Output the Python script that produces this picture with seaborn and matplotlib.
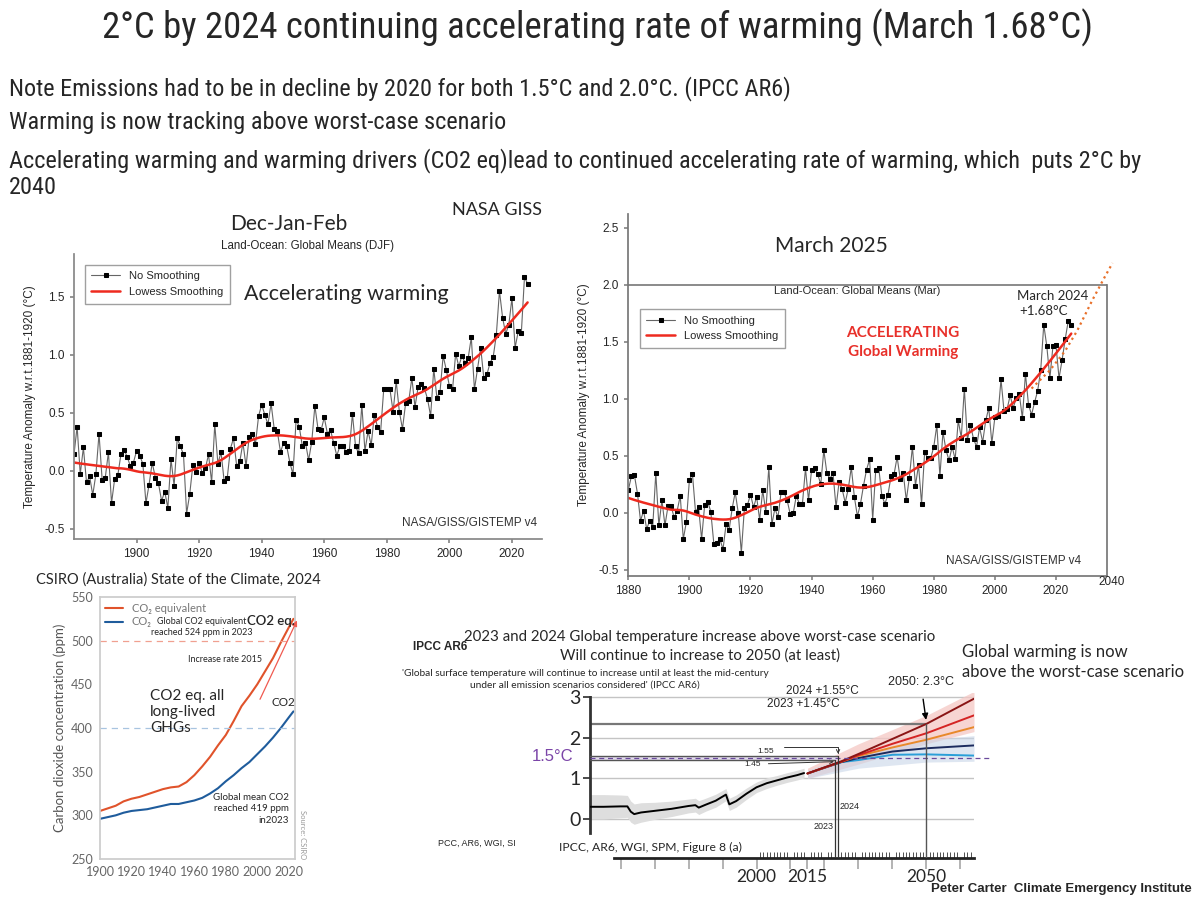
import numpy as np
import matplotlib
matplotlib.use('Agg')
import matplotlib.pyplot as plt
import seaborn as sns
from matplotlib import font_manager

# ---------------- values ----------------
giss_years = list(range(1880, 2026))

# NASA GISTEMP v4, Dec-Jan-Feb anomaly (deg C, w.r.t. 1881-1920)
djf_anom = [0.14, 0.38, -0.03, 0.20, -0.10, -0.05, -0.21, -0.03, 0.32, -0.08,
            -0.06, 0.16, -0.28, -0.07, -0.04, 0.14, 0.18, 0.12, 0.04, 0.07,
            0.17, 0.13, 0.06, -0.28, -0.12, 0.07, -0.06, -0.11, -0.26, -0.18,
            -0.32, 0.10, -0.13, 0.28, 0.21, 0.14, -0.37, -0.20, 0.05, -0.01,
            0.07, -0.02, 0.02, 0.14, -0.10, 0.40, 0.06, 0.16, -0.09, -0.06,
            0.19, 0.28, 0.04, 0.08, 0.24, 0.04, 0.29, 0.32, 0.23, 0.47,
            0.57, 0.48, 0.40, 0.58, 0.36, 0.34, 0.16, 0.24, 0.21, 0.07,
            -0.03, 0.44, 0.38, 0.21, 0.24, 0.09, 0.25, 0.56, 0.36, 0.35,
            0.46, 0.32, 0.35, 0.24, 0.13, 0.21, 0.21, 0.16, 0.17, 0.49,
            0.21, 0.15, 0.57, 0.17, 0.34, 0.22, 0.48, 0.38, 0.33, 0.70,
            0.70, 0.70, 0.51, 0.77, 0.51, 0.36, 0.58, 0.60, 0.80, 0.55,
            0.72, 0.75, 0.71, 0.62, 0.47, 0.88, 0.63, 0.68, 0.99, 0.87,
            0.73, 0.70, 1.01, 0.90, 0.99, 0.93, 0.97, 1.15, 0.70, 0.88,
            1.06, 0.80, 0.83, 0.93, 0.98, 1.17, 1.55, 1.32, 1.18, 1.26,
            1.49, 1.06, 1.20, 1.19, 1.67, 1.61]

# March anomaly
mar_anom = [0.20, 0.32, 0.33, 0.17, -0.07, 0.02, -0.14, -0.07, -0.12, 0.35,
            -0.11, 0.11, -0.11, 0.06, 0.06, -0.04, 0.02, 0.15, -0.23, -0.08,
            0.29, 0.34, 0.01, 0.05, -0.23, 0.07, 0.10, 0.01, -0.27, -0.26,
            -0.23, -0.32, -0.10, -0.15, 0.04, 0.18, 0.00, -0.35, 0.04, 0.07,
            0.16, 0.05, 0.14, -0.06, 0.20, 0.01, 0.40, -0.10, 0.04, -0.04,
            0.18, 0.18, 0.11, -0.01, 0.00, 0.15, 0.08, 0.08, 0.39, 0.11,
            0.38, 0.39, 0.34, 0.25, 0.55, 0.35, 0.30, 0.35, 0.05, 0.27,
            0.21, 0.09, 0.21, 0.40, 0.14, -0.03, 0.08, 0.24, 0.38, 0.47,
            -0.06, 0.38, 0.39, 0.15, 0.08, 0.16, 0.32, 0.34, 0.49, 0.30,
            0.35, 0.11, 0.31, 0.58, 0.24, 0.42, 0.08, 0.53, 0.48, 0.48,
            0.58, 0.77, 0.32, 0.71, 0.55, 0.46, 0.58, 0.47, 0.81, 0.66,
            1.09, 0.64, 0.77, 0.65, 0.58, 0.75, 0.62, 0.81, 0.92, 0.61,
            0.84, 0.85, 1.17, 0.89, 0.91, 1.03, 0.92, 1.01, 1.04, 0.83,
            1.22, 0.95, 0.86, 0.97, 1.07, 1.25, 1.65, 1.46, 1.18, 1.46,
            1.47, 1.18, 1.34, 1.52, 1.68, 1.65]

# hand drawn dotted projection to 2 deg C
proj_years = [2012, 2018, 2023, 2027, 2032, 2036, 2038.5]
proj_vals = [1.09, 1.25, 1.42, 1.60, 1.87, 2.07, 2.19]

# CSIRO State of the Climate 2024
csiro_years = [1900, 1905, 1910, 1915, 1920, 1925, 1930, 1935, 1940, 1945, 1950, 1955, 1960,
               1965, 1970, 1975, 1980, 1985, 1990, 1995, 2000, 2005, 2010, 2015, 2020, 2023]
co2eq_ppm = [305, 308, 311, 316, 319, 321, 324, 327, 330, 332, 333, 338, 346,
             356, 367, 380, 392, 408, 425, 437, 450, 465, 480, 498, 515, 525]
co2_ppm = [296, 298, 300, 303, 305, 306, 307, 309, 311, 313, 313, 315, 317,
           320, 325, 331, 339, 346, 354, 361, 370, 379, 389, 400, 412, 419]
rate_arrow_years = [2001, 2026]
rate_arrow_ppm = [430, 526]

# IPCC AR6 WGI SPM fig 8(a)
hist_years = [1950, 1955, 1960, 1962, 1963, 1964, 1966, 1970, 1975, 1980, 1982, 1983,
              1985, 1988, 1991, 1992, 1994, 1997, 2000, 2003, 2006, 2009, 2012, 2014]
hist_temp = [0.30, 0.30, 0.31, 0.31, 0.18, 0.12, 0.16, 0.20, 0.25, 0.32, 0.34, 0.28,
             0.35, 0.45, 0.60, 0.36, 0.44, 0.62, 0.78, 0.88, 0.95, 1.02, 1.08, 1.13]
hist_spread = [0.30, 0.30, 0.28, 0.27, 0.26, 0.25, 0.24, 0.21, 0.19, 0.17, 0.17, 0.17,
               0.16, 0.16, 0.15, 0.15, 0.15, 0.14, 0.13, 0.13, 0.12, 0.12, 0.12, 0.12]

ssp_years = [2015, 2025, 2030, 2040, 2050, 2064]
ssp_names = ['SSP1-1.9', 'SSP1-2.6', 'SSP2-4.5', 'SSP3-7.0', 'SSP5-8.5']
ssp_vals = {
    'SSP1-1.9': [1.12, 1.40, 1.45, 1.58, 1.59, 1.56],
    'SSP1-2.6': [1.12, 1.40, 1.50, 1.66, 1.74, 1.81],
    'SSP2-4.5': [1.12, 1.41, 1.55, 1.76, 1.95, 2.26],
    'SSP3-7.0': [1.12, 1.41, 1.57, 1.85, 2.11, 2.55],
    'SSP5-8.5': [1.12, 1.42, 1.60, 1.97, 2.34, 2.96],
}
ssp_colors = ['#2a9fd8', '#1c2b5e', '#e8892b', '#d42424', '#8a1515']
band_years = [2015, 2030, 2050, 2064]
red_band_lo = [1.00, 1.35, 1.85, 2.15]
red_band_hi = [1.25, 1.85, 2.55, 3.14]
blue_band_lo = [1.00, 1.25, 1.40, 1.42]
blue_band_hi = [1.20, 1.62, 1.95, 2.05]


def lowess(x, y, frac=0.2):
    # plain tricube local-linear smoother
    x = np.asarray(x, float)
    y = np.asarray(y, float)
    n = len(x)
    k = int(np.ceil(frac * n))
    out = np.empty(n)
    for i in range(n):
        d = np.abs(x - x[i])
        h = np.sort(d)[k]
        w = np.clip(1 - (d / h) ** 3, 0, None) ** 3
        A = np.vstack([np.ones(n), x - x[i]]).T
        sw = np.sqrt(w)
        beta = np.linalg.lstsq(A * sw[:, None], y * sw, rcond=None)[0]
        out[i] = beta[0]
    return out


sns.set_theme(style='white')
names = {f.name for f in font_manager.fontManager.ttflist}


def pick(*cands):
    for c in cands:
        if c in names:
            return c
    return 'DejaVu Sans'


NARROW = pick('Liberation Sans Narrow', 'Roboto Condensed', 'Lato')
SLIDE = pick('Lato', 'Open Sans')
CHART = pick('Liberation Sans', 'Arial')
plt.rcParams['font.family'] = [CHART, 'DejaVu Sans']

W, H = 1200, 900


def box(l, t, r, b):
    return [l / W, 1 - b / H, (r - l) / W, (b - t) / H]


def ftext(x, y, s, **kw):
    kw.setdefault('family', [SLIDE, 'DejaVu Sans'])
    fig.text(x / W, 1 - y / H, s, **kw)


fig = plt.figure(figsize=(12, 9), dpi=100)

# ---------------- slide text ----------------
nk = dict(family=[NARROW, 'DejaVu Sans'])
ftext(598, 28, '2°C by 2024 continuing accelerating rate of warming (March 1.68°C)',
      ha='center', va='center', fontsize=26.5, **nk)
ftext(9, 89, 'Note Emissions had to be in decline by 2020 for both 1.5°C and 2.0°C. (IPCC AR6)',
      va='center', fontsize=17.5, **nk)
ftext(9, 122, 'Warming is now tracking above worst-case scenario', va='center', fontsize=17.5, **nk)
ftext(9, 161, 'Accelerating warming and warming drivers (CO2 eq)lead to continued accelerating rate of warming, which  puts 2°C by',
      va='center', fontsize=17.5, **nk)
ftext(9, 187, '2040', va='center', fontsize=17.5, **nk)

# ---------------- DJF panel ----------------
ax1 = fig.add_axes(box(74, 254, 542, 539))
sns.lineplot(x=giss_years, y=djf_anom, ax=ax1, color='#666666', lw=0.8, marker='s',
             markersize=3.5, markerfacecolor='black', markeredgecolor='black',
             label='No Smoothing')
sns.lineplot(x=giss_years, y=lowess(giss_years, djf_anom), ax=ax1, color='#ee2a1f',
             lw=1.8, label='Lowess Smoothing')
ax1.set_xlim(1880, 2029.6)
ax1.set_ylim(-0.589, 1.868)
ax1.set_xticks(range(1900, 2021, 20))
ax1.set_yticks([-0.5, 0.0, 0.5, 1.0, 1.5])
ax1.set_yticklabels(['-0.5', '0.0', '0.5', '1.0', '1.5'])
ax1.set_ylabel('Temperature Anomaly w.r.t.1881-1920 (°C)', fontsize=8.5, labelpad=6)
for s in ['top', 'right']:
    ax1.spines[s].set_visible(False)
for s in ['left', 'bottom']:
    ax1.spines[s].set_color('#888888')
ax1.tick_params(labelsize=8.5, length=3, direction='out', color='#888888', left=True, bottom=True)
ax1.legend(loc='upper left', bbox_to_anchor=(0.011, 0.982), fontsize=8, frameon=True,
           fancybox=False, edgecolor='#888888', handlelength=2.6, borderpad=0.6)
ax1.text((346.6 - 74) / 468, (539 - 294) / 285, 'Accelerating warming', transform=ax1.transAxes,
         ha='center', va='center', fontsize=15.5, family=[SLIDE, 'DejaVu Sans'])
ax1.text(0.99, 0.057, 'NASA/GISS/GISTEMP v4', transform=ax1.transAxes, ha='right',
         va='center', fontsize=8.5, color='#333333')
ftext(289, 224, 'Dec-Jan-Feb', ha='center', va='center', fontsize=15)
ftext(497, 210, 'NASA GISS', ha='center', va='center', fontsize=13)
ftext(307.5, 246, 'Land-Ocean: Global Means (DJF)', ha='center', va='center', fontsize=8.3,
      family=[CHART, 'DejaVu Sans'])

# ---------------- March panel ----------------
ax2 = fig.add_axes(box(628, 214, 1107, 576))
sns.lineplot(x=giss_years, y=mar_anom, ax=ax2, color='#666666', lw=0.8, marker='s',
             markersize=3.5, markerfacecolor='black', markeredgecolor='black',
             label='No Smoothing')
sns.lineplot(x=giss_years, y=lowess(giss_years, mar_anom), ax=ax2, color='#ee2a1f',
             lw=1.8, label='Lowess Smoothing')
sns.lineplot(x=proj_years, y=proj_vals, ax=ax2, color='#e8702a', lw=1.6,
             linestyle=(0, (1, 1.6)))
ax2.lines[-1].set_clip_on(False)
ax2.set_xlim(1879.9, 2036.7)
ax2.set_ylim(-0.553, 2.62)
ax2.set_xticks(range(1880, 2021, 20))
ax2.set_yticks([-0.5, 0.0, 0.5, 1.0, 1.5, 2.0, 2.5])
ax2.set_yticklabels(['-0.5', '0.0', '0.5', '1.0', '1.5', '2.0', '2.5'])
ax2.set_ylabel('Temperature Anomaly w.r.t.1881-1920 (°C)', fontsize=8.5, labelpad=6)
ax2.spines['top'].set_visible(False)
for s in ['left', 'bottom', 'right']:
    ax2.spines[s].set_color('#777777')
ax2.spines['right'].set_bounds(-0.553, 2.0)
ax2.axhline(2.0, color='#777777', lw=1.2)
ax2.tick_params(labelsize=8.5, length=3, direction='out', color='#888888', left=True, bottom=True)
ax2.legend(loc='upper left', bbox_to_anchor=(0.0125, 0.753), fontsize=8, frameon=True,
           fancybox=False, edgecolor='#888888', handlelength=2.6, borderpad=0.6)
ax2.text((1081 - 628) / 479, (576 - 561) / 362, 'NASA/GISS/GISTEMP v4', transform=ax2.transAxes,
         ha='right', va='center', fontsize=8.5, color='#333333')
ftext(1112, 582, '2040', ha='center', va='center', fontsize=8.5, family=[CHART, 'DejaVu Sans'])
ftext(831, 246, 'March 2025', ha='center', va='center', fontsize=15)
ftext(857, 291, 'Land-Ocean: Global Means (Mar)', ha='center', va='center', fontsize=8,
      family=[CHART, 'DejaVu Sans'])
ftext(903, 333, 'ACCELERATING', ha='center', va='center', fontsize=11, color='#e8302a',
      weight='bold')
ftext(903, 352, 'Global Warming', ha='center', va='center', fontsize=11, color='#e8302a',
      weight='bold')
ftext(1053, 296, 'March 2024', ha='center', va='center', fontsize=9.5)
ftext(1044, 311, '+1.68°C', ha='center', va='center', fontsize=9.5)

# ---------------- CSIRO panel ----------------
ax3 = fig.add_axes(box(100, 597, 295, 859))
sns.lineplot(x=csiro_years, y=co2eq_ppm, ax=ax3, color='#e0532b', lw=1.5, label='CO₂ equivalent')
sns.lineplot(x=csiro_years, y=co2_ppm, ax=ax3, color='#1f5c9c', lw=1.5, label='CO₂')
ax3.axhline(500, color='#f0a090', lw=0.9, ls=(0, (5, 4)))
ax3.axhline(400, color='#a8c4e0', lw=0.9, ls=(0, (5, 4)))
ax3.annotate('', xy=(rate_arrow_years[1], rate_arrow_ppm[1]),
             xytext=(rate_arrow_years[0], rate_arrow_ppm[0]),
             arrowprops=dict(arrowstyle='-|>', color='#f05a50', lw=0.9, mutation_scale=8),
             annotation_clip=False)
ax3.set_xlim(1900, 2024)
ax3.set_ylim(250, 550)
ax3.set_xticks(range(1900, 2021, 20))
ax3.set_yticks(range(250, 551, 50))
ax3.set_ylabel('Carbon dioxide concentration (ppm)', fontsize=9.5, color='#555555',
               family=[SLIDE, 'DejaVu Sans'])
for s in ax3.spines.values():
    s.set_color('#cccccc')
ax3.tick_params(axis='x', labelsize=9, colors='#666666', length=0, pad=5)
ax3.tick_params(axis='y', labelsize=9, colors='#666666', length=0, pad=5)
for lab in ax3.get_xticklabels() + ax3.get_yticklabels():
    lab.set_family([SLIDE, 'DejaVu Sans'])
ax3.legend(loc='upper left', bbox_to_anchor=(-0.02, 1.01), frameon=False,
           labelcolor='#777777', handlelength=1.6, borderpad=0.3, labelspacing=0.2,
           prop={'family': [SLIDE, 'DejaVu Sans'], 'size': 8})
sk = dict(family=[SLIDE, 'DejaVu Sans'])
ax3.text(1964.5, 515.6, 'Global CO2 equivalent\nreached 524 ppm in 2023', ha='center',
         va='center', fontsize=6.5, linespacing=1.3, **sk)
ax3.text(2009, 523, 'CO2 eq.', ha='center', va='center', fontsize=9.5, weight='semibold', **sk)
ax3.text(1979.4, 478, 'Increase rate 2015', ha='center', va='center', fontsize=6.5, **sk)
ax3.text(1931.8, 445, 'CO2 eq. all\nlong-lived\nGHGs', ha='left', va='top', fontsize=11,
         linespacing=1.2, **sk)
ax3.text(2016.5, 429.4, 'CO2', ha='center', va='center', fontsize=8.5, **sk)
ax3.text(2020.3, 326, 'Global mean CO2\nreached 419 ppm\nin2023', ha='right', va='top',
         fontsize=7, linespacing=1.35, multialignment='right', **sk)
ax3.text(2029, 278, 'Source: CSIRO', rotation=-90, ha='center', va='center', fontsize=5.5,
         color='#999999', clip_on=False, **sk)
ftext(178, 580, 'CSIRO (Australia) State of the Climate, 2024', ha='center', va='center',
      fontsize=10.5)

# ---------------- IPCC panel ----------------
ax4 = fig.add_axes(box(590, 693, 974, 858))
ax4.set_xlim(1951, 2064)
ax4.set_ylim(-0.96, 3.10)
for g in [0, 1, 2, 3]:
    ax4.axhline(g, color='#c4c4c4', lw=1, zorder=0)
hy = np.array(hist_years)
ht = np.array(hist_temp)
hs = np.array(hist_spread)
ax4.fill_between(hy, ht - hs, ht + hs, color='#dedede', lw=0, zorder=1)
sns.lineplot(x=hist_years, y=hist_temp, ax=ax4, color='black', lw=1.4, zorder=3)
ax4.fill_between(band_years, red_band_lo, red_band_hi, color='#f5c8c4', alpha=0.75, lw=0, zorder=1)
ax4.fill_between(band_years, blue_band_lo, blue_band_hi, color='#c9d6e8', alpha=0.6, lw=0, zorder=1)
for name, col in zip(ssp_names, ssp_colors):
    sns.lineplot(x=ssp_years, y=ssp_vals[name], ax=ax4, color=col, lw=1.4, zorder=4)

ax4.fill_between([1951, 2024], 1.45, 1.55, color='#e4dcef', lw=0, zorder=2)
ax4.plot([1951, 2024], [1.55, 1.55], color='#555555', lw=1, zorder=5)
ax4.plot([1951, 2023], [1.45, 1.45], color='#555555', lw=1, zorder=5)
ax4.plot([1951, 2069], [1.51, 1.51], color='#6a4a9c', lw=0.9, ls=(0, (4, 3)), zorder=5,
         clip_on=False)
ax4.plot([2024, 2024], [1.55, -0.96], color='#333333', lw=0.9, zorder=5)
ax4.plot([2023, 2023], [1.45, -0.96], color='#333333', lw=0.9, zorder=5)
ax4.plot([1951, 2050], [2.34, 2.34], color='#777777', lw=1.6, zorder=2)
ax4.plot([2050, 2050], [2.34, -0.96], color='#555555', lw=1, zorder=5)
ax4.annotate('2050: 2.3°C', xy=(2050, 2.37), xytext=(2048.3, 3.38), ha='center', va='center',
             fontsize=9, arrowprops=dict(arrowstyle='-|>', color='black', lw=1, mutation_scale=9,
                                         shrinkA=6),
             annotation_clip=False)
ax4.annotate('', xy=(2024, 1.60), xytext=(2008, 1.76),
             arrowprops=dict(arrowstyle='->', lw=0.7, color='#333333', mutation_scale=6,
                             shrinkA=0, shrinkB=0,
                             connectionstyle='angle,angleA=0,angleB=90,rad=0'))
ax4.annotate('', xy=(2022.8, 1.41), xytext=(2003.5, 1.36),
             arrowprops=dict(arrowstyle='->', lw=0.7, color='#333333', mutation_scale=6,
                             shrinkA=0, shrinkB=0))
ax4.text(2002.7, 1.65, '1.55', ha='center', va='center', fontsize=6)
ax4.text(1998.7, 1.34, '1.45', ha='center', va='center', fontsize=6)
ax4.text(2024.5, 0.30, '2024', ha='left', va='center', fontsize=6.5)
ax4.text(2022.8, -0.19, '2023', ha='right', va='center', fontsize=6.5)
ax4.text(2019.5, 3.16, '2024 +1.55°C', ha='center', va='center', fontsize=8.5, clip_on=False)
ax4.text(2013.8, 2.82, '2023 +1.45°C', ha='center', va='center', fontsize=8.5)
ax4.text(1940.1, 1.53, '1.5°C', ha='center', va='center', fontsize=12, color='#7b45a8',
         clip_on=False)
ax4.text(1941.8, -0.71, 'IPCC, AR6, WGI, SPM, Figure 8 (a)', ha='left', va='center',
         fontsize=8.7, clip_on=False, family=[SLIDE, 'DejaVu Sans'])

ax4.spines['top'].set_visible(False)
ax4.spines['right'].set_visible(False)
ax4.spines['left'].set_bounds(-0.35, 3.05)
ax4.spines['left'].set_linestyle((0, (1, 1)))
ax4.spines['left'].set_linewidth(2)
ax4.spines['left'].set_color('#333333')
ax4.spines['bottom'].set_bounds(1958, 2064)
ax4.spines['bottom'].set_linewidth(2)
ax4.spines['bottom'].set_color('#222222')
ax4.set_yticks([0, 1, 2, 3])
ax4.set_yticklabels(['0', '1', '2', '3'])
major = sorted(list(range(1960, 2061, 10)) + [2015])
ax4.set_xticks(major)
ax4.set_xticklabels([str(m) if m in (2000, 2015, 2050) else '' for m in major])
ax4.set_xticks(range(2000, 2064), minor=True)
ax4.tick_params(axis='x', which='major', length=8, color='#aaaaaa', direction='out',
                labelsize=12.5, pad=0, bottom=True)
ax4.tick_params(axis='x', which='minor', length=4, color='#333333', direction='in',
                bottom=True, width=0.6)
ax4.tick_params(axis='y', labelsize=14, length=5, color='#333333', left=True, pad=2)
for lab in ax4.get_xticklabels() + ax4.get_yticklabels():
    lab.set_family([SLIDE, 'DejaVu Sans'])

ftext(440, 647, 'IPCC AR6', ha='center', va='center', fontsize=8.5, weight='bold',
      family=[CHART, 'DejaVu Sans'])
ftext(700, 637, '2023 and 2024 Global temperature increase above worst-case scenario',
      ha='center', va='center', fontsize=10.8)
ftext(700, 656, 'Will continue to increase to 2050 (at least)', ha='center', va='center',
      fontsize=10.8)
ftext(585, 673, "'Global surface temperature will continue to increase until at least the mid-century",
      ha='center', va='center', fontsize=7.3)
ftext(585, 685, "under all emission scenarios considered' (IPCC AR6)", ha='center',
      va='center', fontsize=7.3)
ftext(438, 843, 'PCC, AR6, WGI, SI', ha='left', va='center', fontsize=6.5,
      family=[CHART, 'DejaVu Sans'])
ftext(962, 652, 'Global warming is now', ha='left', va='center', fontsize=12)
ftext(962, 672, 'above the worst-case scenario', ha='left', va='center', fontsize=12)
ftext(1192, 889, 'Peter Carter  Climate Emergency Institute', ha='right', va='center',
      fontsize=9.5, weight='bold', family=[CHART, 'DejaVu Sans'])

fig.savefig('out.png', dpi=100)
